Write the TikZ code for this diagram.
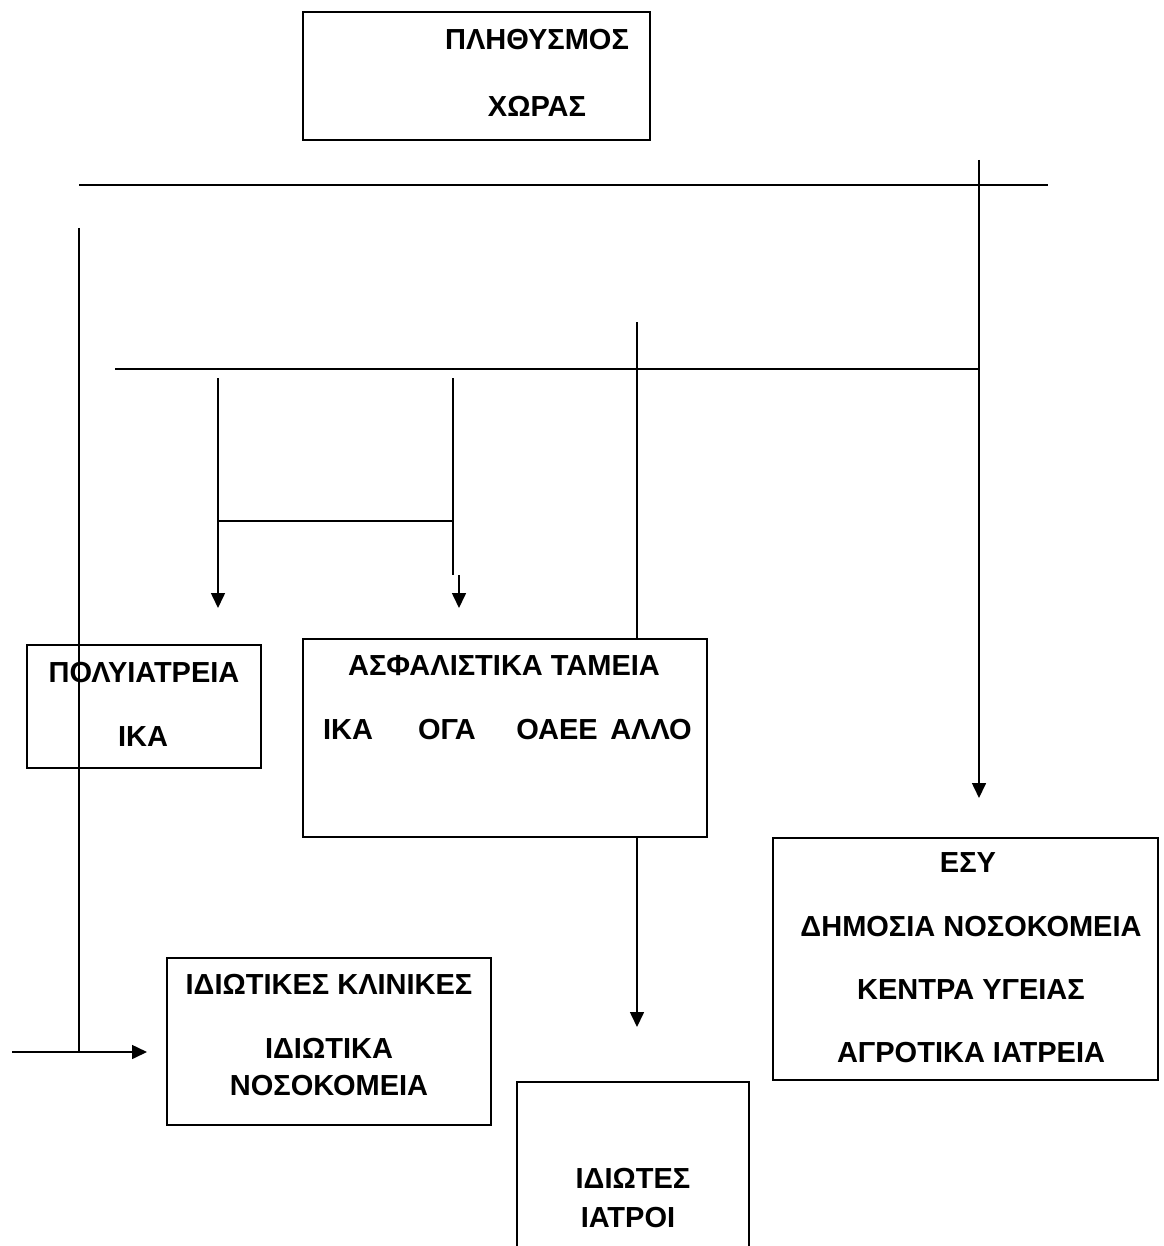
\documentclass[tikz,border=0pt]{standalone}
\usepackage{fontspec}
\setmainfont{Liberation Sans}
\usetikzlibrary{arrows.meta, positioning}

\begin{document}
\begin{tikzpicture}[x=0.5pt, y=-0.5pt, >={Triangle[length=7.5pt, width=7pt]},
    box/.style={draw, line width=1pt, inner sep=0pt},
    lbl/.style={font=\fontsize{14.5}{17}\selectfont\bfseries, inner sep=0pt},
    link/.style={line width=0.8pt}]
\clip (0,0) rectangle (1163,1246);
\fill[white] (0,0) rectangle (1163,1246);

% boxes
\node [box, minimum width=173.5pt, minimum height=64pt] (pop) at (476.5,76) {};
\node [box, minimum width=117pt, minimum height=61.5pt] (poly) at (144,706.5) {};
\node [box, minimum width=202pt, minimum height=99pt] (fund) at (505,738) {};
\node [box, minimum width=192.5pt, minimum height=121pt] (esy) at (965.5,959) {};
\node [box, minimum width=162pt, minimum height=83.5pt] (priv) at (329,1041.5) {};
\node [box, minimum width=116pt, minimum height=109pt] (doc) at (633,1191) {};

% texts
\node [lbl] (pop1) at (537,40) {ΠΛΗΘΥΣΜΟΣ};
\node [lbl] (pop2) at (537,106) {ΧΩΡΑΣ};
\node [lbl] (poly1) at (144,673) {ΠΟΛΥΙΑΤΡΕΙΑ};
\node [lbl] (poly2) at (143,737) {ΙΚΑ};
\node [lbl] (fund1) at (504,666) {ΑΣΦΑΛΙΣΤΙΚΑ ΤΑΜΕΙΑ};
\node [lbl] (ika) at (348,730) {ΙΚΑ};
\node [lbl] (oga) at (447,730) {ΟΓΑ};
\node [lbl] (oaee) at (557,730) {ΟΑΕΕ};
\node [lbl] (allo) at (651,730) {ΑΛΛΟ};
\node [lbl] (esy1) at (968,863) {ΕΣΥ};
\node [lbl] (esy2) at (971,927) {ΔΗΜΟΣΙΑ ΝΟΣΟΚΟΜΕΙΑ};
\node [lbl] (esy3) at (971,990) {ΚΕΝΤΡΑ ΥΓΕΙΑΣ};
\node [lbl] (esy4) at (971,1053) {ΑΓΡΟΤΙΚΑ ΙΑΤΡΕΙΑ};
\node [lbl] (priv1) at (329,984) {ΙΔΙΩΤΙΚΕΣ ΚΛΙΝΙΚΕΣ};
\node [lbl] (priv2) at (329,1048) {ΙΔΙΩΤΙΚΑ};
\node [lbl] (priv3) at (329,1086) {ΝΟΣΟΚΟΜΕΙΑ};
\node [lbl] (doc1) at (633,1178) {ΙΔΙΩΤΕΣ};
\node [lbl] (doc2) at (628,1218) {ΙΑΤΡΟΙ};

% junction points
\coordinate (topL) at (79,185);
\coordinate (topR) at (1048,185);
\coordinate (esyIn) at (979,160);
\coordinate (esyTip) at (979,798);
\coordinate (leftIn) at (79,228);
\coordinate (leftEnd) at (79,1052);
\coordinate (privIn) at (12,1052);
\coordinate (privTip) at (147,1052);
\coordinate (midL) at (115,369);
\coordinate (midR) at (979,369);
\coordinate (fundIn) at (637,322);
\coordinate (polyIn) at (218,378);
\coordinate (polyTip) at (218,608);
\coordinate (bridgeL) at (218,521);
\coordinate (bridgeR) at (453,521);
\coordinate (sideIn) at (453,378);
\coordinate (sideEnd) at (453,575);
\coordinate (sideArr) at (459,575);
\coordinate (sideTip) at (459,608);
\coordinate (docTip) at (637,1027);

\draw[link] (topL) -- (topR);
\draw[link, ->] (esyIn) -- (esyTip);
\draw[link] (leftIn) -- (leftEnd);
\draw[link, ->] (privIn) -- (privTip);
\draw[link] (midL) -- (midR);
\draw[link] (fundIn) -- (fundIn |- fund.north);
\draw[link, ->] (polyIn) -- (polyTip);
\draw[link] (bridgeL) -- (bridgeR);
\draw[link] (sideIn) -- (sideEnd);
\draw[link, ->] (sideArr) -- (sideTip);
\draw[link, ->] (fundIn |- fund.south) -- (docTip);
\end{tikzpicture}
\end{document}
